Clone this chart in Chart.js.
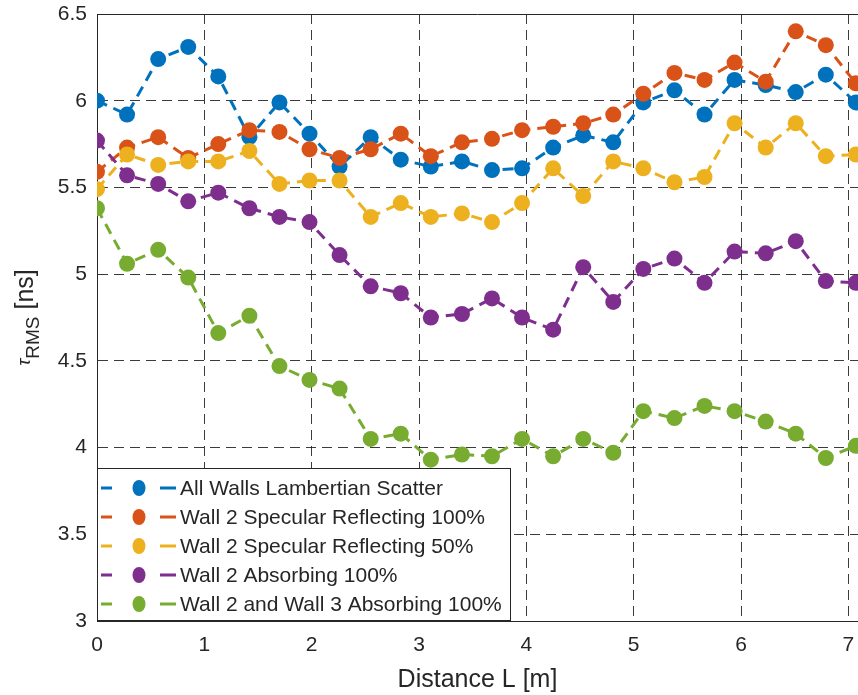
<!DOCTYPE html>
<html>
<head>
<meta charset="utf-8">
<script src="https://cdn.jsdelivr.net/npm/chart.js@4.4.0/dist/chart.umd.min.js"></script>
<style>
  html, body { margin: 0; padding: 0; background: #fff; }
  #wrap { width: 858px; height: 695px; }
</style>
</head>
<body>
<div id="wrap"><canvas id="trmsChart" width="858" height="695"></canvas></div>
<script>
// receiver distance along the room [m]
const distances = [0, 0.28, 0.57, 0.85, 1.13, 1.42, 1.70, 1.98, 2.26, 2.55, 2.83, 3.11, 3.40,
                   3.68, 3.96, 4.25, 4.53, 4.81, 5.09, 5.38, 5.66, 5.94, 6.23, 6.51, 6.79, 7.07];

// RMS delay spread [ns] for each wall configuration
const lambertianAll = [6.00, 5.92, 6.24, 6.31, 6.14, 5.79, 5.99, 5.81, 5.62, 5.79, 5.66, 5.62, 5.65,
                       5.60, 5.61, 5.73, 5.80, 5.76, 5.99, 6.06, 5.92, 6.12, 6.09, 6.05, 6.15, 5.99];
const specular100   = [5.59, 5.73, 5.79, 5.67, 5.75, 5.83, 5.82, 5.72, 5.67, 5.72, 5.81, 5.68, 5.76,
                       5.78, 5.83, 5.85, 5.87, 5.92, 6.04, 6.16, 6.12, 6.22, 6.11, 6.40, 6.32, 6.10];
const specular50    = [5.49, 5.69, 5.63, 5.65, 5.65, 5.71, 5.52, 5.54, 5.54, 5.33, 5.41, 5.33, 5.35,
                       5.30, 5.41, 5.61, 5.45, 5.65, 5.61, 5.53, 5.56, 5.87, 5.73, 5.87, 5.68, 5.69];
const absorbing2    = [5.77, 5.57, 5.52, 5.42, 5.47, 5.38, 5.33, 5.30, 5.11, 4.93, 4.89, 4.75, 4.77,
                       4.86, 4.75, 4.68, 5.04, 4.84, 5.03, 5.09, 4.95, 5.13, 5.12, 5.19, 4.96, 4.95];
const absorbing23   = [5.38, 5.06, 5.14, 4.98, 4.66, 4.76, 4.47, 4.39, 4.34, 4.05, 4.08, 3.93, 3.96,
                       3.95, 4.05, 3.95, 4.05, 3.97, 4.21, 4.17, 4.24, 4.21, 4.15, 4.08, 3.94, 4.01];

const seriesNames = [
  'All Walls Lambertian Scatter',
  'Wall 2 Specular Reflecting 100%',
  'Wall 2 Specular Reflecting 50%',
  'Wall 2 Absorbing 100%',
  'Wall 2 and Wall 3 Absorbing 100%'
];
const seriesValues = [lambertianAll, specular100, specular50, absorbing2, absorbing23];
const seriesColors = ['#0072BD', '#D95319', '#EDB120', '#7E2F8E', '#77AC30'];

const xTicks = [0, 1, 2, 3, 4, 5, 6, 7];
const yTicks = [3, 3.5, 4, 4.5, 5, 5.5, 6, 6.5];

const FONT = 'Liberation Sans, Arial, Helvetica, sans-serif';
const TEXT = '#262626';
const DASH = [11, 7];

// top edge of the box (axes are only closed on left/top/bottom)
const topFrame = {
  id: 'topFrame',
  beforeDatasetsDraw(chart) {
    const { ctx, chartArea } = chart;
    ctx.save();
    ctx.strokeStyle = TEXT;
    ctx.lineWidth = 1;
    ctx.beginPath();
    ctx.moveTo(chartArea.left, chartArea.top + 0.5);
    ctx.lineTo(chartArea.right, chartArea.top + 0.5);
    ctx.stroke();
    ctx.restore();
  }
};

// rotated y label with subscript
const yLabel = {
  id: 'yLabel',
  afterDraw(chart) {
    const { ctx, chartArea } = chart;
    const cy = (chartArea.top + chartArea.bottom) / 2;
    ctx.save();
    ctx.translate(24, cy);
    ctx.rotate(-Math.PI / 2);
    ctx.fillStyle = TEXT;
    ctx.textBaseline = 'alphabetic';
    const parts = [
      { t: '\u03C4', font: 'italic 19px ' + FONT, dy: -3 },
      { t: 'RMS', font: '19px ' + FONT, dy: 6 },
      { t: ' [ns]', font: '25px ' + FONT, dy: 0 }
    ];
    let total = 0;
    parts.forEach(p => { ctx.font = p.font; p.w = ctx.measureText(p.t).width; total += p.w; });
    let x = -total / 2;
    parts.forEach(p => {
      ctx.font = p.font;
      ctx.fillText(p.t, x, 9 + p.dy);
      x += p.w;
    });
    ctx.restore();
  }
};

// boxed legend in the lower-left corner of the axes
const legendBox = {
  id: 'legendBox',
  afterDraw(chart) {
    const { ctx, chartArea } = chart;
    const rowH = 29;
    const w = 414, h = rowH * seriesNames.length + 8;
    const left = chartArea.left, top = chartArea.bottom - h;
    ctx.save();
    ctx.fillStyle = '#fff';
    ctx.fillRect(left, top, w, h);
    ctx.strokeStyle = TEXT;
    ctx.lineWidth = 1;
    ctx.strokeRect(left + 0.5, top + 0.5, w - 1, h - 1);
    chart.data.datasets.forEach((ds, i) => {
      const y = top + 20 + i * rowH;
      ctx.strokeStyle = ds.borderColor;
      ctx.lineWidth = ds.borderWidth;
      ctx.beginPath();
      ctx.moveTo(left + 4, y); ctx.lineTo(left + 15, y);
      ctx.moveTo(left + 63, y); ctx.lineTo(left + 79, y);
      ctx.stroke();
      ctx.fillStyle = ds.pointBackgroundColor;
      ctx.beginPath();
      ctx.ellipse(left + 42, y, 6.5, 8, 0, 0, Math.PI * 2);
      ctx.fill();
      ctx.fillStyle = TEXT;
      ctx.font = '21px ' + FONT;
      ctx.textBaseline = 'middle';
      ctx.fillText(ds.label, left + 83, y + 1);
    });
    ctx.restore();
  }
};

const datasets = seriesNames.map((name, i) => ({
  label: name,
  data: distances.map((d, k) => ({ x: d, y: seriesValues[i][k] })),
  borderColor: seriesColors[i],
  backgroundColor: seriesColors[i],
  pointBackgroundColor: seriesColors[i],
  borderWidth: 3,
  borderDash: DASH,
  pointRadius: 8,
  pointBorderWidth: 0,
  pointHoverRadius: 8,
  tension: 0,
  fill: false,
  order: seriesNames.length - i
}));

const ctx = document.getElementById('trmsChart').getContext('2d');
new Chart(ctx, {
  type: 'line',
  data: { datasets: datasets },
  options: {
    responsive: false,
    animation: false,
    events: [],
    layout: { autoPadding: false, padding: { top: 14, right: 0, left: 0, bottom: 0 } },
    plugins: {
      legend: { display: false },
      tooltip: { enabled: false }
    },
    scales: {
      x: {
        type: 'linear',
        min: 0,
        max: 7.09,
        afterBuildTicks: s => { s.ticks = xTicks.map(v => ({ value: v })); },
        afterFit: s => { s.height = 74; s.paddingLeft = 0; s.paddingRight = 0; },
        ticks: {
          color: TEXT,
          font: { family: FONT, size: 21 },
          padding: 12,
          maxRotation: 0,
          callback: v => String(v)
        },
        grid: { color: 'rgba(38,38,38,0.9)', lineWidth: 1, drawTicks: false },
        border: { display: true, color: TEXT, width: 1, dash: [10, 6] },
        title: {
          display: true,
          text: 'Distance L [m]',
          color: TEXT,
          font: { family: FONT, size: 25 },
          padding: { top: 2, bottom: 0 }
        }
      },
      y: {
        type: 'linear',
        min: 3,
        max: 6.5,
        afterBuildTicks: s => { s.ticks = yTicks.map(v => ({ value: v })); },
        afterFit: s => { s.width = 97; s.paddingTop = 0; s.paddingBottom = 0; },
        ticks: {
          color: TEXT,
          font: { family: FONT, size: 21 },
          padding: 10,
          callback: v => String(v)
        },
        grid: { color: 'rgba(38,38,38,0.9)', lineWidth: 1, drawTicks: false },
        border: { display: true, color: TEXT, width: 1, dash: [10, 6] }
      }
    }
  },
  plugins: [topFrame, yLabel, legendBox]
});
</script>
</body>
</html>
